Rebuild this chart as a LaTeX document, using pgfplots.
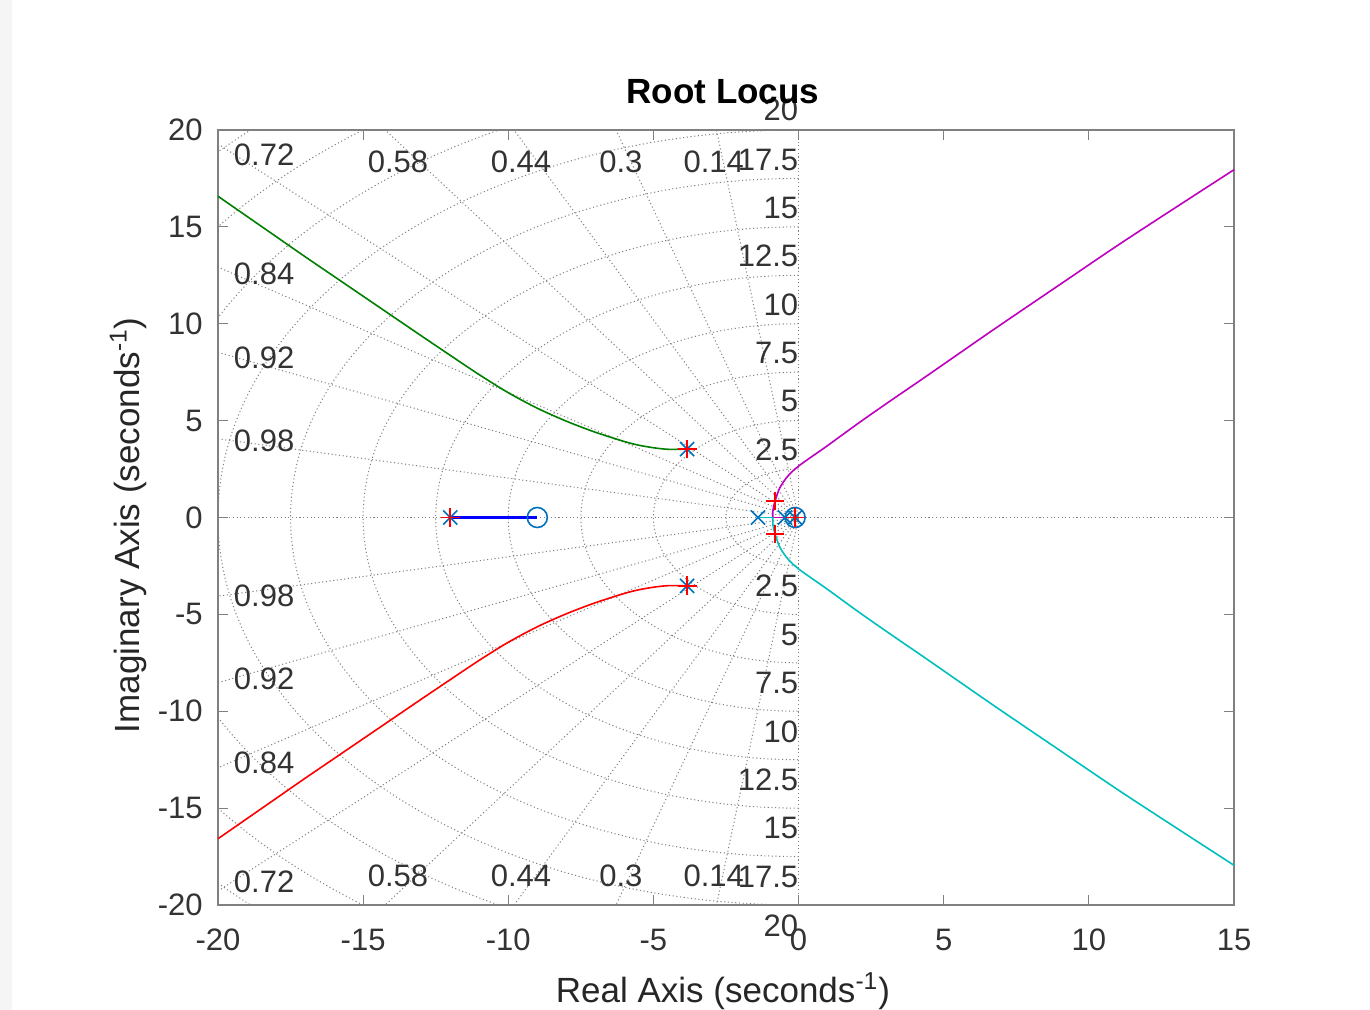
\documentclass[border=0pt]{standalone}
\usepackage{fontspec}
\setmainfont{Liberation Sans}
\usepackage{pgfplots}
\pgfplotsset{compat=1.18}
\definecolor{mblue}{rgb}{0,0.447,0.741}
\definecolor{pureblue}{rgb}{0,0,1}
\definecolor{purered}{rgb}{1,0,0}
\definecolor{mgreen}{rgb}{0,0.5,0}
\definecolor{mcyan}{rgb}{0,0.75,0.75}
\definecolor{mmag}{rgb}{0.75,0,0.75}
\definecolor{gridc}{gray}{0.5}
\definecolor{txt}{gray}{0.2}
\begin{document}
\begin{tikzpicture}[
  sg/.style={gridc, line width=0.5pt, dash pattern=on 0.55pt off 1.3pt},
  zl/.style={font=\fontsize{15.5}{18}\selectfont, text=txt, inner sep=0pt},
]
\path[use as bounding box, fill=white] (0,0) rectangle (685pt,505pt);
\fill[gray!8] (0,0) rectangle (6pt,505pt);
\begin{axis}[
  at={(109pt,52.5pt)}, anchor=south west,
  width=508pt, height=387.5pt, scale only axis,
  xmin=-20, xmax=15, ymin=-20, ymax=20,
  xtick={-20,-15,...,15}, ytick={-20,-15,...,20},
  tick align=inside, major tick length=5pt,
  axis line style={black!50, line width=0.6pt},
  tick style={black!50, line width=0.6pt},
  /pgf/number format/assume math mode=true,
  every tick label/.append style={font=\fontsize{15.5}{18}\selectfont, text=txt, inner sep=0pt},
  xticklabel style={anchor=center, yshift=-17.5pt},
  yticklabel style={anchor=east, xshift=-7.5pt},
  title={Root Locus},
  title style={font=\fontsize{17.5}{20}\selectfont\bfseries, at={(axis description cs:0.497,1)}, anchor=center, yshift=13pt},
  xlabel={Real Axis (seconds\textsuperscript{-1})},
  ylabel={Imaginary Axis (seconds\textsuperscript{-1})},
  label style={font=\fontsize{17.5}{20}\selectfont, text=black!85},
  xlabel style={at={(axis description cs:0.497,0)}, anchor=center, yshift=-43pt},
  ylabel style={at={(axis description cs:-0.0886,0.49)}, anchor=center},
  clip=false,
]
% ---- s-plane grid (sgrid) ----
\begin{scope}
\clip (rel axis cs:0,0) rectangle (rel axis cs:1,1);
\draw[sg] (axis cs:-20,0) -- (axis cs:15,0);
\draw[sg] (axis cs:0,-20) -- (axis cs:0,20);
\draw[sg] (axis cs:0,2.5) arc[start angle=90, end angle=270, x radius=2.5, y radius=2.5];
\draw[sg] (axis cs:0,5) arc[start angle=90, end angle=270, x radius=5, y radius=5];
\draw[sg] (axis cs:0,7.5) arc[start angle=90, end angle=270, x radius=7.5, y radius=7.5];
\draw[sg] (axis cs:0,10) arc[start angle=90, end angle=270, x radius=10, y radius=10];
\draw[sg] (axis cs:0,12.5) arc[start angle=90, end angle=270, x radius=12.5, y radius=12.5];
\draw[sg] (axis cs:0,15) arc[start angle=90, end angle=270, x radius=15, y radius=15];
\draw[sg] (axis cs:0,17.5) arc[start angle=90, end angle=270, x radius=17.5, y radius=17.5];
\draw[sg] (axis cs:0,20) arc[start angle=90, end angle=270, x radius=20, y radius=20];
\draw[sg] (axis cs:0,22.5) arc[start angle=90, end angle=270, x radius=22.5, y radius=22.5];
\draw[sg] (axis cs:0,25) arc[start angle=90, end angle=270, x radius=25, y radius=25];
\draw[sg] (axis cs:0,27.5) arc[start angle=90, end angle=270, x radius=27.5, y radius=27.5];
\draw[sg] (axis cs:-5.6,39.6) -- (axis cs:0,0) -- (axis cs:-5.6,-39.6);
\draw[sg] (axis cs:-12,38.16) -- (axis cs:0,0) -- (axis cs:-12,-38.16);
\draw[sg] (axis cs:-17.6,35.92) -- (axis cs:0,0) -- (axis cs:-17.6,-35.92);
\draw[sg] (axis cs:-23.2,32.58) -- (axis cs:0,0) -- (axis cs:-23.2,-32.58);
\draw[sg] (axis cs:-28.8,27.76) -- (axis cs:0,0) -- (axis cs:-28.8,-27.76);
\draw[sg] (axis cs:-33.6,21.70) -- (axis cs:0,0) -- (axis cs:-33.6,-21.70);
\draw[sg] (axis cs:-36.8,15.68) -- (axis cs:0,0) -- (axis cs:-36.8,-15.68);
\draw[sg] (axis cs:-39.2,7.96) -- (axis cs:0,0) -- (axis cs:-39.2,-7.96);
\end{scope}
% damping labels
\node[zl] at (axis cs:-18.41,18.71) {0.72};
\node[zl] at (axis cs:-13.80,18.35) {0.58};
\node[zl] at (axis cs:-9.56,18.35) {0.44};
\node[zl] at (axis cs:-6.12,18.35) {0.3};
\node[zl] at (axis cs:-2.92,18.35) {0.14};
\node[zl] at (axis cs:-18.41,12.57) {0.84};
\node[zl] at (axis cs:-18.41,8.23) {0.92};
\node[zl] at (axis cs:-18.41,3.95) {0.98};
\node[zl] at (axis cs:-18.41,-4.05) {0.98};
\node[zl] at (axis cs:-18.41,-8.34) {0.92};
\node[zl] at (axis cs:-18.41,-12.67) {0.84};
\node[zl] at (axis cs:-18.41,-18.81) {0.72};
\node[zl] at (axis cs:-13.80,-18.50) {0.58};
\node[zl] at (axis cs:-9.56,-18.50) {0.44};
\node[zl] at (axis cs:-6.12,-18.50) {0.3};
\node[zl] at (axis cs:-2.92,-18.50) {0.14};
% natural frequency labels
\node[zl, anchor=east] at (axis cs:0,3.48) {2.5};
\node[zl, anchor=east] at (axis cs:0,6.0) {5};
\node[zl, anchor=east] at (axis cs:0,8.49) {7.5};
\node[zl, anchor=east] at (axis cs:0,11.0) {10};
\node[zl, anchor=east] at (axis cs:0,13.5) {12.5};
\node[zl, anchor=east] at (axis cs:0,15.97) {15};
\node[zl, anchor=east] at (axis cs:0,18.45) {17.5};
\node[zl, anchor=east] at (axis cs:0,21.03) {20};
\node[zl, anchor=east] at (axis cs:0,-3.54) {2.5};
\node[zl, anchor=east] at (axis cs:0,-6.05) {5};
\node[zl, anchor=east] at (axis cs:0,-8.55) {7.5};
\node[zl, anchor=east] at (axis cs:0,-11.05) {10};
\node[zl, anchor=east] at (axis cs:0,-13.55) {12.5};
\node[zl, anchor=east] at (axis cs:0,-16.03) {15};
\node[zl, anchor=east] at (axis cs:0,-18.55) {17.5};
\node[zl, anchor=east] at (axis cs:0,-21.1) {20};
% ---- root locus branches ----
\addplot[draw=pureblue, line width=1.1pt] coordinates {(-12,0) (-9,0)};
\addplot[mgreen, line width=0.8pt, smooth] coordinates {
(-3.84,3.53) (-4.5,3.52) (-5.0,3.60) (-5.5,3.73) (-6.0,3.92) (-7.0,4.40) (-8.0,4.97)
(-9.0,5.64) (-10.0,6.44) (-11.0,7.37) (-12.0,8.37) (-13.0,9.38) (-14.0,10.40)
(-15.0,11.42) (-16.0,12.44) (-17.0,13.46) (-18.0,14.50) (-19.0,15.54) (-20.0,16.58)};
\addplot[purered, line width=0.8pt, smooth] coordinates {
(-3.84,-3.53) (-4.5,-3.52) (-5.0,-3.60) (-5.5,-3.73) (-6.0,-3.92) (-7.0,-4.40) (-8.0,-4.97)
(-9.0,-5.64) (-10.0,-6.44) (-11.0,-7.37) (-12.0,-8.37) (-13.0,-9.38) (-14.0,-10.40)
(-15.0,-11.42) (-16.0,-12.44) (-17.0,-13.46) (-18.0,-14.50) (-19.0,-15.54) (-20.0,-16.58)};
\addplot[mmag, line width=0.8pt] coordinates {(-0.47,0) (-0.89,0)};
\addplot[mmag, line width=0.8pt, smooth] coordinates {
(-0.89,0) (-0.88,0.4) (-0.81,0.85) (-0.64,1.55) (-0.35,2.17) (0.05,2.71) (0.97,3.68)
(2.11,4.92) (3.26,6.12) (4.41,7.30) (6.71,9.69) (9.0,12.02) (11.3,14.35) (15,17.95)};
\addplot[mcyan, line width=0.8pt] coordinates {(-1.4,0) (-0.89,0)};
\addplot[mcyan, line width=0.8pt, smooth] coordinates {
(-0.89,0) (-0.88,-0.4) (-0.81,-0.85) (-0.64,-1.55) (-0.35,-2.17) (0.05,-2.71) (0.97,-3.68)
(2.11,-4.92) (3.26,-6.12) (4.41,-7.30) (6.71,-9.69) (9.0,-12.02) (11.3,-14.35) (15,-17.95)};
% ---- poles, zeros, closed-loop poles ----
\addplot[only marks, mark=x, mark size=5pt, mblue, mark options={line width=0.8pt}] coordinates {
(-12,0) (-3.84,3.53) (-3.84,-3.53) (-1.4,0) (-0.47,0) (-0.12,0)};
\addplot[only marks, mark=o, mark size=5pt, mblue, mark options={line width=0.8pt}] coordinates {
(-9,0) (-0.12,0)};
\addplot[only marks, mark=+, mark size=4.7pt, purered, mark options={line width=0.8pt}] coordinates {
(-12,0) (-3.84,3.53) (-3.84,-3.53) (-0.81,0.85) (-0.81,-0.85) (-0.12,0)};
\end{axis}
\end{tikzpicture}
\end{document}
